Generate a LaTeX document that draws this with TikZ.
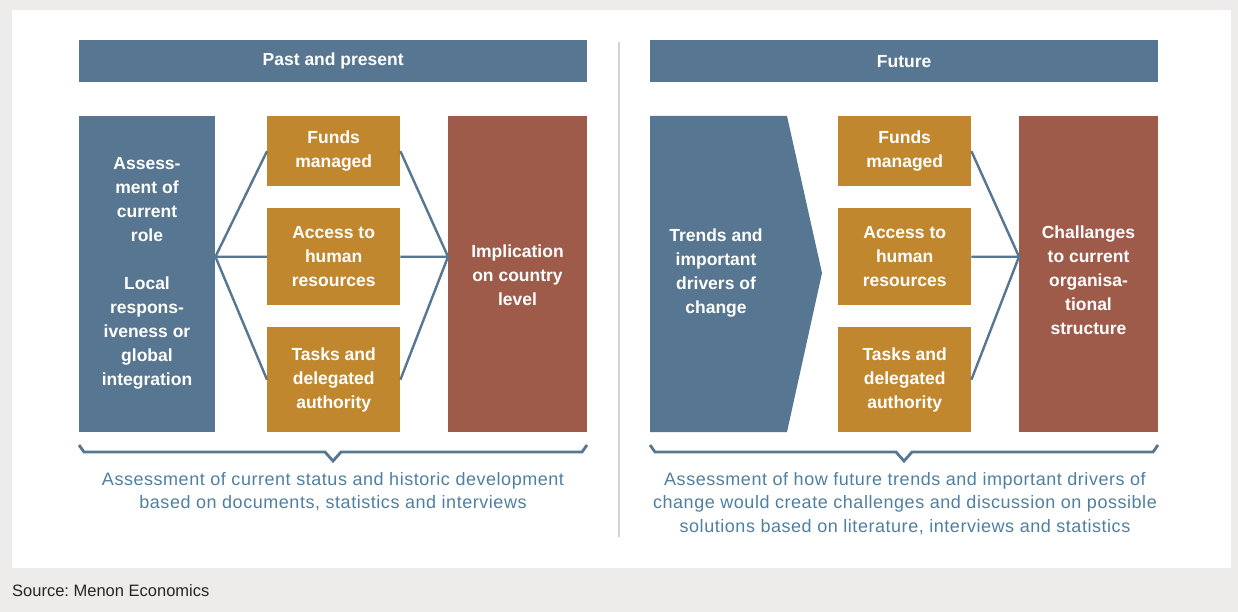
\documentclass[tikz,border=0pt]{standalone}
\usepackage{fontspec}
\setmainfont{Liberation Sans}
\frenchspacing
\definecolor{bgray}{HTML}{EDECEA}
\definecolor{hblue}{HTML}{567691}
\definecolor{gold}{HTML}{C1872E}
\definecolor{rust}{HTML}{9E5B4A}
\definecolor{capblue}{HTML}{4F80A2}
\definecolor{divgray}{HTML}{D2D2D2}
\tikzset{
  x=1pt, y=-1pt,
  boxtxt/.style={text=white, font=\fontsize{17.5}{24}\selectfont\bfseries, align=center, inner sep=0pt},
  hdr/.style={fill=hblue, minimum width=508pt, minimum height=42pt, anchor=north west, text=white, font=\fontsize{17.5}{20}\selectfont\bfseries, inner sep=0pt},
  bluebox/.style={fill=hblue, anchor=north west, inner sep=0pt},
  goldbox/.style={fill=gold, anchor=north west, inner sep=0pt, minimum width=133pt},
  rustbox/.style={fill=rust, anchor=north west, inner sep=0pt, minimum width=139pt, minimum height=316pt},
  conn/.style={draw=hblue, line width=2.4pt},
  brace/.style={draw=hblue, line width=2.8pt, line join=miter},
  caption/.style={text=capblue, font=\fontsize{18}{23.5}\selectfont\addfontfeatures{LetterSpace=3}, align=center, inner sep=0pt},
}
\begin{document}
\begin{tikzpicture}
\fill[bgray] (0,0) rectangle (1238,612);
\useasboundingbox (0,0) rectangle (1238,612);
\fill[white] (12,10) rectangle (1231,568);
\draw[divgray, line width=2pt] (619,42) -- (619,537);

% headers
\node[hdr] (hL) at (79,40) {Past and present};
\node[hdr] (hR) at (650,40) {Future};

% ---- left panel ----
\node[bluebox, minimum width=136pt, minimum height=316pt] (L) at (79,116) {};
\node[boxtxt] (Ltxt) at (147,273) {Assess-\\ment of\\current\\role\\[24pt]Local\\respons-\\iveness or\\global\\integration};
\node[goldbox, minimum height=70pt] (F1) at (267,116) {};
\node[boxtxt] at (F1.center) {Funds\\managed};
\node[goldbox, minimum height=97pt] (A1) at (267,208) {};
\node[boxtxt] at (A1.center) {Access to\\human\\resources};
\node[goldbox, minimum height=105pt] (T1) at (267,327) {};
\node[boxtxt] at (T1.center) {Tasks and\\delegated\\authority};
\node[rustbox] (R1) at (448,116) {};
\node[boxtxt] at (517.5,275) {Implication\\on country\\level};

\coordinate (fl1) at (L.east |- A1.west);
\coordinate (fr1) at (R1.west |- A1.east);
\draw[conn] (F1.west) -- (fl1) -- (A1.west);
\draw[conn] (T1.west) -- (fl1);
\draw[conn] (F1.east) -- (fr1) -- (A1.east);
\draw[conn] (T1.east) -- (fr1);

% ---- right panel ----
\fill[hblue] (650,116) -- (787,116) -- (822,273) -- (787,432) -- (650,432) -- cycle;
\node[boxtxt] (Arr) at (716,273) {Trends and\\important\\drivers of\\change};
\node[goldbox, minimum height=70pt] (F2) at (838,116) {};
\node[boxtxt] at (F2.center) {Funds\\managed};
\node[goldbox, minimum height=97pt] (A2) at (838,208) {};
\node[boxtxt] at (A2.center) {Access to\\human\\resources};
\node[goldbox, minimum height=105pt] (T2) at (838,327) {};
\node[boxtxt] at (T2.center) {Tasks and\\delegated\\authority};
\node[rustbox] (R2) at (1019,116) {};
\node[boxtxt] at (1088.5,280) {Challanges\\to current\\organisa-\\tional\\structure};

\coordinate (fr2) at (R2.west |- A2.east);
\draw[conn] (F2.east) -- (fr2) -- (A2.east);
\draw[conn] (T2.east) -- (fr2);

% braces
\draw[brace] (79,445) -- (84,452) -- (325,452) -- (333,461) -- (341,452) -- (582,452) -- (587,445);
\draw[brace] (650,445) -- (655,452) -- (896,452) -- (904,461) -- (912,452) -- (1153,452) -- (1158,445);

% captions
\node[caption] (cL) at (333,491.5) {Assessment of current status and historic development\\based on documents, statistics and interviews};
\node[caption] (cR) at (905,503.5) {Assessment of how future trends and important drivers of\\change would create challenges and discussion on possible\\solutions based on literature, interviews and statistics};

\node[anchor=west, text=black!85, font=\fontsize{16.5}{20}\selectfont, inner sep=0pt] (src) at (12,591) {Source: Menon Economics};
\end{tikzpicture}
\end{document}
